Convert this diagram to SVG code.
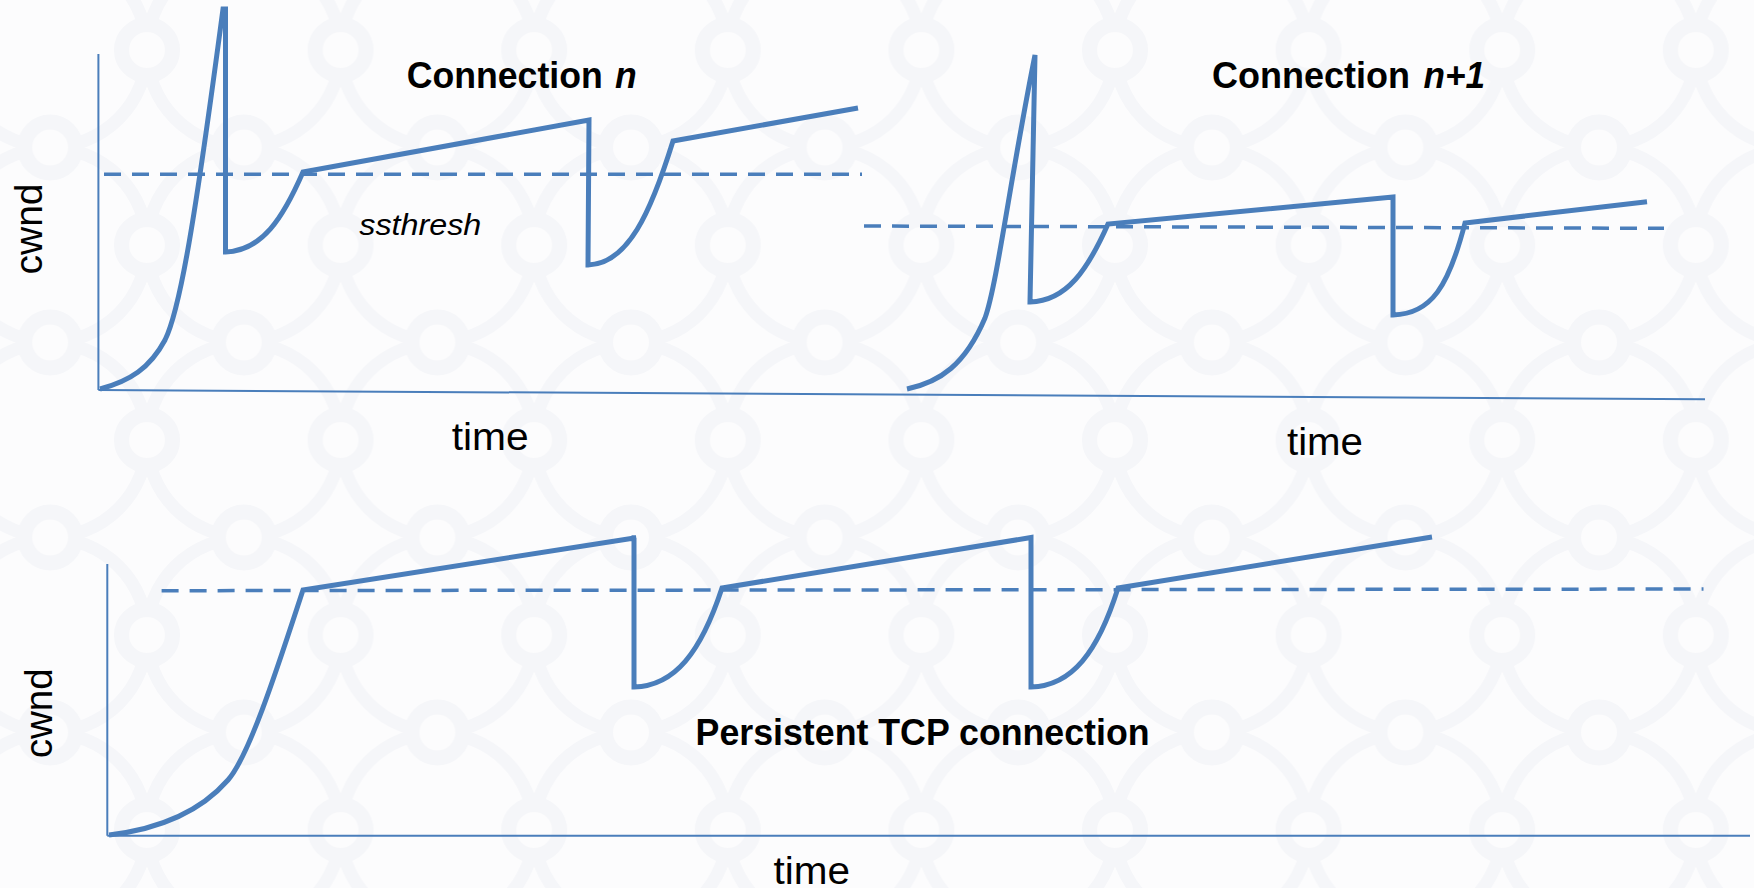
<svg xmlns="http://www.w3.org/2000/svg" width="1754" height="888" viewBox="0 0 1754 888">
  <defs>
    <pattern id="bgpat" patternUnits="userSpaceOnUse" x="50.2" y="50" width="193.6" height="195">
      <g fill="none" stroke="#f5f6f9" stroke-width="13">
        <circle cx="0" cy="0" r="97"/>
        <circle cx="193.6" cy="0" r="97"/>
        <circle cx="0" cy="195" r="97"/>
        <circle cx="193.6" cy="195" r="97"/>
      </g>
      <g fill="#fcfcfd" stroke="#f5f6f9" stroke-width="15">
        <circle cx="96.8" cy="0" r="25.5"/>
        <circle cx="96.8" cy="195" r="25.5"/>
        <circle cx="0" cy="97.5" r="25.5"/>
        <circle cx="193.6" cy="97.5" r="25.5"/>
      </g>
    </pattern>
    <style>
      .axis { fill: none; stroke: #4a7ebb; stroke-width: 2; }
      .curve { fill: none; stroke: #4a7ebb; stroke-width: 5; stroke-linejoin: miter; stroke-miterlimit: 3; }
      .dash { fill: none; stroke: #4a7ebb; stroke-width: 3.5; stroke-dasharray: 17 11; }
      .title { font-family: "Liberation Sans", Arial, sans-serif; font-weight: bold; font-size: 37px; fill: #000; }
      .label { font-family: "Liberation Sans", Arial, sans-serif; font-size: 39px; fill: #000; }
      .note { font-family: "Liberation Sans", Arial, sans-serif; font-style: italic; font-size: 30px; fill: #000; }
    </style>
  </defs>

  <g id="background">
    <rect x="0" y="0" width="1754" height="888" fill="#fcfcfd"/>
    <rect x="0" y="0" width="1754" height="888" fill="url(#bgpat)"/>
  </g>

  <g id="axes">
    <path class="axis" d="M98.4,54 L98.4,390"/>
    <path class="axis" d="M98.4,390 L1705,399.3"/>
    <path class="axis" d="M107.3,564 L107.3,835.7"/>
    <path class="axis" d="M107.3,835.7 L1750,835.7"/>
  </g>

  <g id="thresholds">
    <path class="dash" d="M104,174.3 L862,174.3"/>
    <path class="dash" d="M864,226 L1664,228.3"/>
    <path class="dash" d="M161.6,590.7 L1703.5,589"/>
  </g>

  <g id="connection-n">
    <path class="curve" d="M100,389 C130,381 150,368 165,340 C180,310 195,220 223,9 L225.5,9 L225.5,252 C262,251 283,218 303,172 L589,120 L588,265 C628,264 651,212 673,141 L858,108"/>
    <text class="title" x="406.7" y="88" textLength="196" lengthAdjust="spacingAndGlyphs">Connection</text>
    <text class="title" x="615" y="88" font-style="italic" textLength="21.7" lengthAdjust="spacingAndGlyphs">n</text>
    <text class="note" x="359.3" y="235" textLength="122" lengthAdjust="spacingAndGlyphs">ssthresh</text>
    <text class="label" x="451.7" y="450" textLength="77" lengthAdjust="spacingAndGlyphs">time</text>
    <text class="label" transform="translate(41.7,229) rotate(-90)" text-anchor="middle" x="0" y="0" textLength="91" lengthAdjust="spacingAndGlyphs">cwnd</text>
  </g>

  <g id="connection-n1">
    <path class="curve" d="M907,389 C940,382 965,365 985,318 C997,285 1010,180 1035,55 L1030,302 C1067,301 1088,269 1108,224 L1393,197 L1393,315 C1432,314 1449,285 1465,223 L1647,201.7"/>
    <text class="title" x="1212" y="88" textLength="198" lengthAdjust="spacingAndGlyphs">Connection</text>
    <text class="title" x="1423.5" y="88" font-style="italic" textLength="61.6" lengthAdjust="spacingAndGlyphs">n+1</text>
    <text class="label" x="1287" y="455" textLength="76" lengthAdjust="spacingAndGlyphs">time</text>
  </g>

  <g id="persistent">
    <path class="curve" d="M109,835 C160,829 200,812 228,780 C250,755 280,660 303,590 L636,537.7 L634,537.7 L634,687 C675,686 701,652 722,588 L1031,537.5 L1031,687 C1072,686 1098,652 1118,588 L1432,537"/>
    <text class="title" x="695.6" y="745" textLength="454" lengthAdjust="spacingAndGlyphs">Persistent TCP connection</text>
    <text class="label" x="773.5" y="884" textLength="76.5" lengthAdjust="spacingAndGlyphs">time</text>
    <text class="label" transform="translate(51.7,713.3) rotate(-90)" text-anchor="middle" x="0" y="0" textLength="90" lengthAdjust="spacingAndGlyphs">cwnd</text>
  </g>
</svg>
